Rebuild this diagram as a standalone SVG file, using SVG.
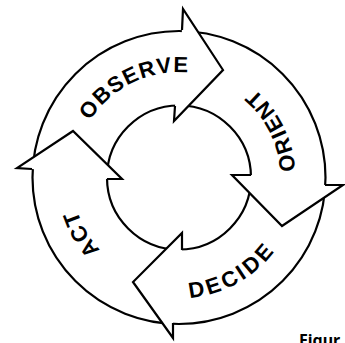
<svg xmlns="http://www.w3.org/2000/svg" width="345" height="343" viewBox="0 0 345 343">
  <style>
    .ln { fill: none; stroke: #000; stroke-width: 2.2; }
    .head { fill: #fff; stroke: #000; stroke-width: 2.2; stroke-linejoin: miter; stroke-miterlimit: 10; }
    .lbl { font-family: "Liberation Sans", Arial, sans-serif; font-weight: bold; font-size: 22px; fill: #000; }
    .fig { font-family: "Noto Sans", "Liberation Sans", sans-serif; font-weight: bold; font-size: 16px; fill: #000; }
  </style>
  <defs>
    <path id="pObserve" d="M77.6 206.6 A105.5 105.5 0 0 1 264.35 115.5"/>
    <path id="pOrient" d="M249.1 270.5 A116.5 116.5 0 0 0 144.9 66.1"/>
    <path id="pDecide" d="M85.4 254.1 A121 121 0 0 0 293.2 137.5"/>
    <path id="pAct" d="M215.6 278 A107 107 0 0 1 110.2 95.5"/>
  </defs>
  <rect width="345" height="343" fill="#fff"/>
  <g id="connectors">
    <circle class="ln" cx="179" cy="177.5" r="146.5"/>
    <circle class="ln" cx="179" cy="177.5" r="72"/>
  </g>
  <g id="observe">
    <path class="head" d="M182 30 L183 9 L223 70 L174 121 L175 106"/>
    <text class="lbl" letter-spacing="1.3"><textPath href="#pObserve" startOffset="50%" text-anchor="middle">OBSERVE</textPath></text>
  </g>
  <g id="orient">
    <path class="head" d="M251 175 L232 175 L282 226 L343 185 L325 185"/>
    <text class="lbl" letter-spacing="2.1"><textPath href="#pOrient" startOffset="50%" text-anchor="middle">ORIENT</textPath></text>
  </g>
  <g id="decide">
    <path class="head" d="M182 250 L182 233 L133 282 L173 338 L173 323"/>
    <text class="lbl" letter-spacing="3.2"><textPath href="#pDecide" startOffset="50%" text-anchor="middle">DECIDE</textPath></text>
  </g>
  <g id="act">
    <path class="head" d="M32 169 L17 168 L73 131 L122 179 L107 179"/>
    <text class="lbl" letter-spacing="0.7"><textPath href="#pAct" startOffset="50%" text-anchor="middle">ACT</textPath></text>
  </g>
  <text class="fig" x="299" y="346">Figur</text>
</svg>
